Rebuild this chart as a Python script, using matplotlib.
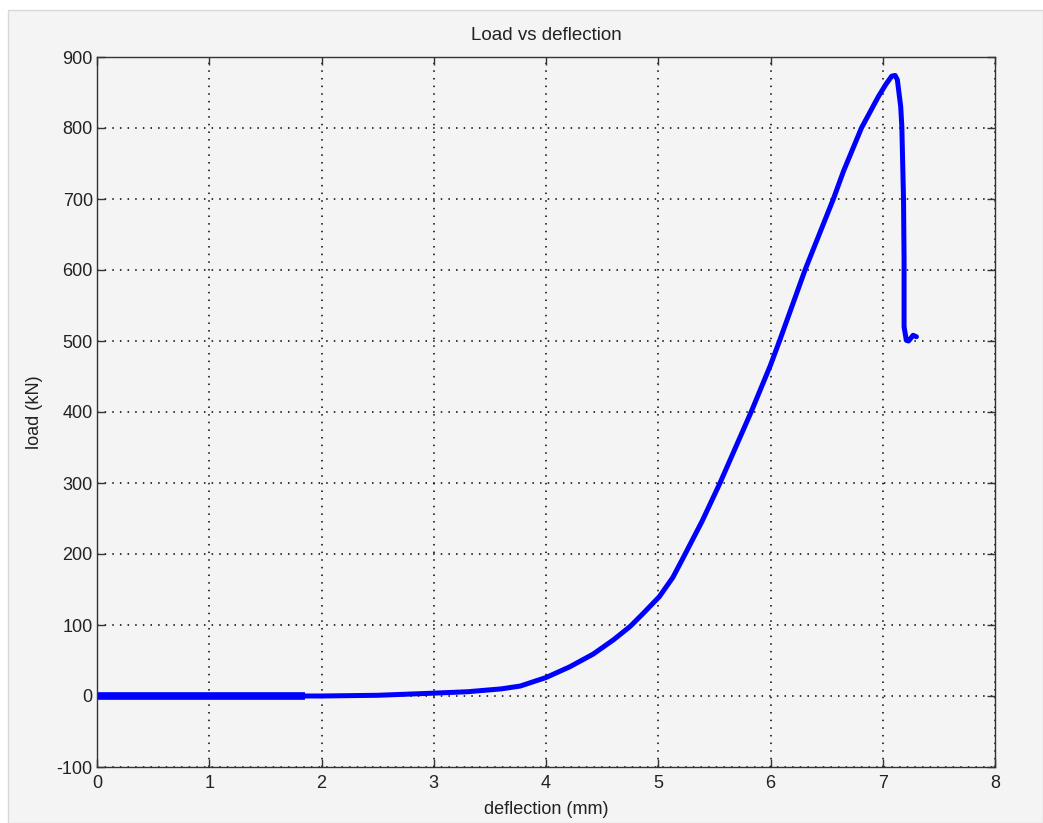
import matplotlib.pyplot as plt
from matplotlib.patches import Rectangle

plt.rcParams['font.family'] = ['Liberation Sans', 'DejaVu Sans']
plt.rcParams['axes.unicode_minus'] = False

# load vs deflection test data
defl = [0.0, 1.85, 2.0, 2.5, 3.0, 3.3, 3.6, 3.77, 4.0, 4.21, 4.42, 4.6, 4.75, 4.87,
        5.01, 5.13, 5.22, 5.39, 5.55, 5.83, 6.0, 6.08, 6.31, 6.56, 6.65, 6.81, 6.96, 7.03,
        7.08, 7.11, 7.13, 7.16, 7.17, 7.185, 7.19, 7.19, 7.21, 7.23, 7.27, 7.30]
load = [0, 0, 0, 1, 4, 6, 10, 14, 26, 41, 59, 79, 98, 117,
        140, 167, 194, 246, 300, 401, 466, 500, 601, 700, 739, 800, 844, 862,
        873, 874, 868, 830, 802, 700, 614, 520, 501, 500, 508, 506]
# thicker flat start segment
start_defl = [0.0, 1.85]
start_load = [0, 0]

bg = '#f4f4f4'
fig = plt.figure(figsize=[10.43, 8.23], dpi=100)
fig.patch.set_facecolor('white')
fig.patches.append(Rectangle((8/1043, 0), 1 - 8/1043, 1 - 10/823, transform=fig.transFigure,
                             facecolor=bg, edgecolor='#d8d8d8', lw=1, zorder=-1))

ax = fig.add_axes([97/1043, 1 - 767/823, (995-97)/1043, (767-57)/823])
ax.set_facecolor(bg)
ax.plot(defl, load, color='#0000ff', lw=3.6, solid_capstyle='round', solid_joinstyle='round')
ax.plot(start_defl, start_load, color='#0000ff', lw=5.5, solid_capstyle='butt')

ax.set_xlim(0, 8)
ax.set_ylim(-100, 900)
ax.set_xticks(range(0, 9))
ax.set_yticks(range(-100, 901, 100))
ax.grid(True, color='black', ls=(0, (1, 4)), lw=1.1)
ax.tick_params(direction='in', top=True, right=True, length=6, width=1,
               labelsize=13, colors='#333333', labelcolor='#222222', pad=3)
ax.tick_params(axis='x', pad=6)
for s in ax.spines.values():
    s.set_color('#333333')
    s.set_linewidth(1)

ax.set_title('Load vs deflection', fontsize=13.5, color='#222222', pad=12)
ax.set_xlabel('deflection (mm)', fontsize=13, color='#222222', labelpad=6)
ax.set_ylabel('load (kN)', fontsize=13, color='#222222', labelpad=10)

fig.savefig('out.png', dpi=100, facecolor=fig.get_facecolor())
